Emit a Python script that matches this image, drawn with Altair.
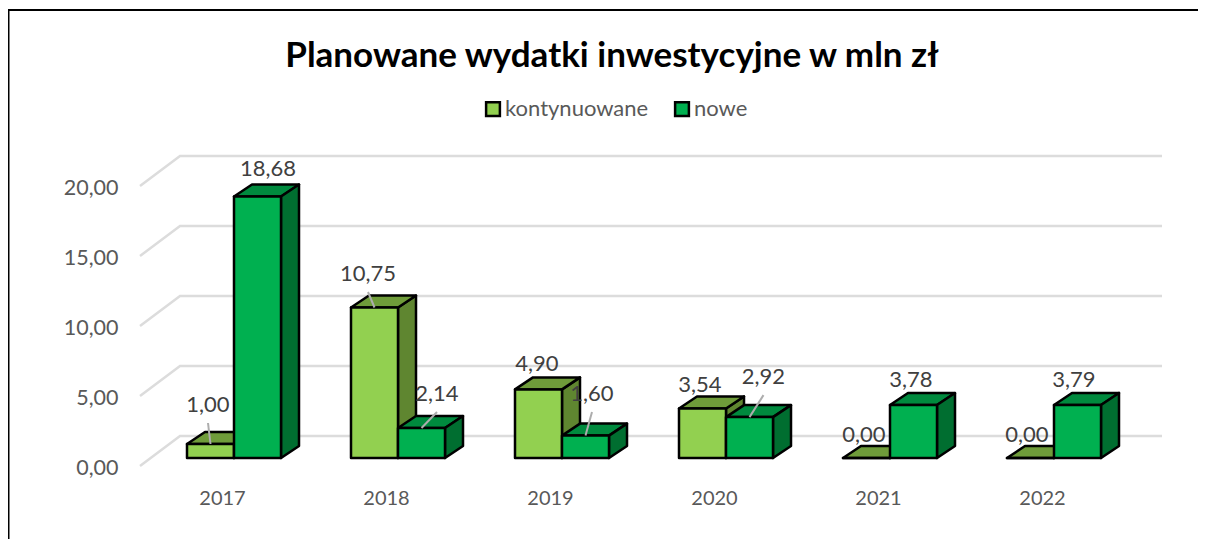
import altair as alt
import pandas as pd

# ---- values ----
TITLE = "Planowane wydatki inwestycyjne w mln zł"
YEARS = [2017, 2018, 2019, 2020, 2021, 2022]
SERIES = ["kontynuowane", "nowe"]
KONTYNUOWANE = [1.00, 10.75, 4.90, 3.54, 0.00, 0.00]
NOWE = [18.68, 2.14, 1.60, 2.92, 3.78, 3.79]
LABELS_K = ["1,00", "10,75", "4,90", "3,54", "0,00", "0,00"]
LABELS_N = ["18,68", "2,14", "1,60", "2,92", "3,78", "3,79"]
GRID_VALUES = [0, 5, 10, 15, 20]

# ---- layout / styling (pixels) ----
W, H = 1190, 531
PX_X = 164.0        # pixels per category
PX_Y = 14.0         # pixels per unit of value
ORIGIN_X = 179.0    # plot x of the first group's left edge
ORIGIN_Y = 450.0    # plot y of bars' base
BAR_W = 47.0
DEPTH_X, DEPTH_Y = 18.0, 12.0
NUDGE_K = [(-2.5, -39), (-6.5, -33.5), (-1.5, -25.4), (-2.5, -23.4), (-2.5, -23), (-3.5, -23)]
NUDGE_N = [(10.5, -27.5), (15.5, -34), (6.5, -41.6), (14, -40), (-2.5, -25), (-3.5, -25)]
FONT = "Lato"
LIGHT, DARK = "#92D050", "#00B050"
LIGHT_TOP, LIGHT_SIDE = "#6F9C3A", "#5F8630"
DARK_TOP, DARK_SIDE = "#008A3E", "#006E30"

x_scale = alt.Scale(domain=[-ORIGIN_X / PX_X, (W - ORIGIN_X) / PX_X], range=[0, W], nice=False, zero=False)
y_scale = alt.Scale(domain=[(ORIGIN_Y - H) / PX_Y, ORIGIN_Y / PX_Y], range=[H, 0], nice=False, zero=False)
dx_u = lambda px: px / PX_X
dy_u = lambda px: px / PX_Y

x_axis = alt.Axis(
    values=list(range(len(YEARS))), orient="bottom", offset=-41, labelPadding=0, labelOffset=35,
    domain=False, ticks=False, grid=False, title=None, labelFlush=False, labelOverlap=False,
    labelFont=FONT, labelFontSize=20, labelColor="#595959", labelBaseline="middle",
    labelExpr=f"format({YEARS[0]}+datum.value,'d')",
)
y_axis = alt.Axis(
    values=GRID_VALUES, orient="left", offset=-110, labelPadding=0, labelOffset=10,
    domain=False, ticks=False, grid=False, title=None,
    labelFont=FONT, labelFontSize=21.5, labelColor="#595959", labelBaseline="middle",
    labelExpr="replace(format(datum.value,'.2f'),'.',',')",
)

fronts, sides, tops, labels, leaders = [], [], [], [], []
for s_i, (name, vals, texts, nudges) in enumerate(
    [(SERIES[0], KONTYNUOWANE, LABELS_K, NUDGE_K), (SERIES[1], NOWE, LABELS_N, NUDGE_N)]
):
    for i, (v, t, (nx, ny)) in enumerate(zip(vals, texts, nudges)):
        left = i + dx_u(s_i * BAR_W)
        right = left + dx_u(BAR_W)
        fid = f"{s_i}-{i}"
        fronts.append(dict(series=name, s=s_i, x=left, x2=right, y=v, y2=0.0))
        sides += [
            dict(id=fid, s=s_i, x=right, y=v, y2=0.0),
            dict(id=fid, s=s_i, x=right + dx_u(DEPTH_X), y=v + dy_u(DEPTH_Y), y2=dy_u(DEPTH_Y)),
        ]
        tops += [
            dict(id=fid, s=s_i, y=v, x=left, x2=right),
            dict(id=fid, s=s_i, y=v + dy_u(DEPTH_Y), x=left + dx_u(DEPTH_X), x2=right + dx_u(DEPTH_X)),
        ]
        ax = (left + right) / 2
        lx, ly = ax + dx_u(nx), v + dy_u(-ny)
        labels.append(dict(x=lx, y=ly, text=t))
        if ny < -30:  # labels pushed far from their bar get a leader line
            leaders.append(dict(x=ax, y=v, x2=lx, y2=ly - dy_u(18)))

grid = []
for g in GRID_VALUES:
    g_id = str(g)
    grid += [
        dict(id=g_id, o=0, x=dx_u(140 - 187), y=g - dy_u(8)),
        dict(id=g_id, o=1, x=dx_u(180 - 187), y=g + dy_u(22)),
        dict(id=g_id, o=2, x=dx_u(1162 - 187), y=g + dy_u(22)),
    ]

X = lambda f="x": alt.X(f"{f}:Q", scale=x_scale, axis=x_axis)
Y = lambda f="y": alt.Y(f"{f}:Q", scale=y_scale, axis=y_axis)
stroke = dict(stroke="black", strokeWidth=2.5, strokeJoin="round")

grid_layer = alt.Chart(pd.DataFrame(grid)).mark_line(color="#DCDCDC", strokeWidth=2.5).encode(
    x=X(), y=Y(), detail="id:N", order="o:Q"
)

def side_layer(s, color):
    return alt.Chart(pd.DataFrame(sides)).transform_filter(f"datum.s=={s}").mark_area(color=color, **stroke).encode(
        x=X(), y=Y(), y2="y2:Q", detail="id:N"
    )

def top_layer(s, color):
    return alt.Chart(pd.DataFrame(tops)).transform_filter(f"datum.s=={s}").mark_area(
        color=color, orient="horizontal", **stroke
    ).encode(x=X(), x2="x2:Q", y=Y(), detail="id:N")

front_layer = alt.Chart(pd.DataFrame(fronts)).mark_bar(**stroke).encode(
    x=X(), x2="x2:Q", y=Y(), y2="y2:Q",
    color=alt.Color(
        "series:N",
        scale=alt.Scale(domain=SERIES, range=[LIGHT, DARK]),
        legend=alt.Legend(
            orient="none", legendX=474, legendY=90, direction="horizontal", title=None,
            symbolType="square", symbolSize=190, symbolStrokeColor="black", symbolStrokeWidth=2.5,
            labelFont=FONT, labelFontSize=22, labelColor="#595959", columnPadding=21, labelOffset=1,
            symbolOpacity=1,
        ),
    ),
)

leader_layer = alt.Chart(pd.DataFrame(leaders)).mark_rule(color="#ADADAD", strokeWidth=2).encode(
    x=X(), x2="x2:Q", y=Y(), y2="y2:Q"
)
label_layer = alt.Chart(pd.DataFrame(labels)).mark_text(font=FONT, fontSize=22, color="#404040").encode(
    x=X(), y=Y(), text="text:N"
)

border_top = alt.Chart(pd.DataFrame({"a": [0]})).mark_rule(color="black", strokeWidth=2).encode(
    x=alt.value(0), x2=alt.value(W), y=alt.value(2)
)
border_left = alt.Chart(pd.DataFrame({"a": [0]})).mark_rule(color="black", strokeWidth=3).encode(
    x=alt.value(0), y=alt.value(1), y2=alt.value(H)
)
title_layer = alt.Chart(pd.DataFrame({"t": [TITLE]})).mark_text(
    font=FONT, fontSize=35, fontWeight="bold", color="black", align="center", baseline="middle"
).encode(x=alt.value(604), y=alt.value(48), text="t:N")

chart = alt.layer(
    border_top, border_left, grid_layer,
    side_layer(0, LIGHT_SIDE), top_layer(0, LIGHT_TOP),
    top_layer(1, DARK_TOP), side_layer(1, DARK_SIDE),
    front_layer, leader_layer, label_layer, title_layer,
).properties(
    width=W, height=H, padding=0,
    autosize=alt.AutoSizeParams(type="none"),
).configure_view(stroke=None)

chart.save("out.html", embed_options={"renderer": "svg", "actions": False})
